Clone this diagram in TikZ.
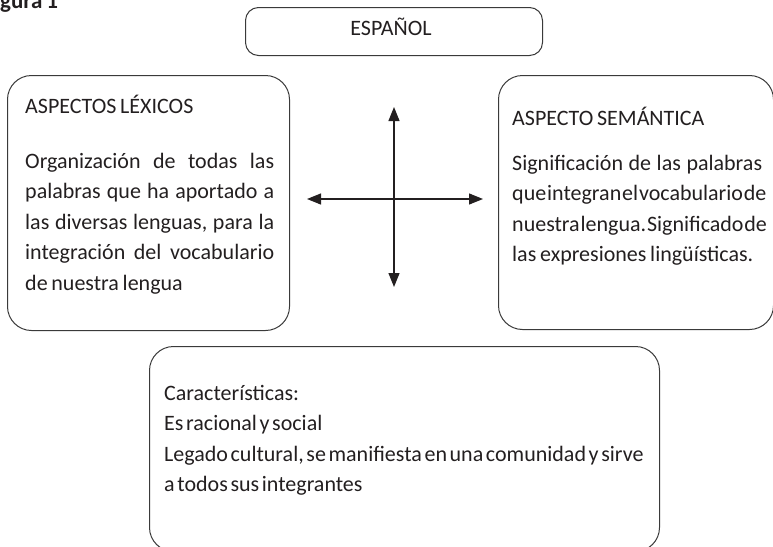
\documentclass[tikz,border=0pt]{standalone}
\usepackage{fontspec}
\setmainfont{Carlito}[WordSpace=0.55]
\usetikzlibrary{arrows.meta,positioning}
\definecolor{ink}{HTML}{231F20}
\definecolor{edge}{HTML}{3A3A3A}
% one justified line of a given width
\newcommand{\justline}[2]{\leavevmode\hbox to #1{\spaceskip=0.17em plus 1fil minus 0.13em\relax#2}}

\begin{document}
\begin{tikzpicture}[x=1pt,y=-1pt,>={Triangle[length=14pt,width=11pt]},
  every node/.style={text=ink,inner sep=0pt},
  txt/.style={font=\fontsize{22}{30.5}\selectfont,anchor=base west,align=left,text width=320pt,
    execute at begin node={\frenchspacing\spaceskip=0.17em\relax}},
  box/.style={draw=edge,line width=1pt,rounded corners=24pt,anchor=north west}]
\useasboundingbox (0,0) rectangle (773,546);
\node[txt,font=\bfseries\fontsize{23}{24}\selectfont] (fig) at (0,9) {gura 1};
% title
\node[box,rounded corners=13pt,minimum width=297pt,minimum height=48pt] (esp) at (245,7) {};
\node[txt,anchor=base,text width=] (esptxt) at (391,35) {ESPAÑOL};
% left and right boxes
\node[box,minimum width=282pt,minimum height=255pt] (lexbox) at (7,75) {};
\node[txt] (lexhead) at (25,113) {ASPECTOS LÉXICOS};
\node[txt] (lexbody) at (25,168)
  {\justline{249pt}{Organización de todas las}\\
   \justline{249pt}{palabras que ha aportado a}\\
   \justline{249pt}{las diversas lenguas, para la}\\
   \justline{249pt}{integración del vocabulario}\\
   de nuestra lengua};
\node[box,minimum width=275pt,minimum height=254pt] (sembox) at (498,75) {};
\node[txt] (semhead) at (512,125) {ASPECTO SEMÁNTICA};
\node[txt] (sembody) at (512,170)
  {\justline{250pt}{Significación de las palabras}\\
   \justline{250pt}{que integran el vocabulario de}\\
   \justline{250pt}{nuestra lengua. Significado de}\\
   las expresiones lingüísticas.};
% bottom box
\node[box,minimum width=510pt,minimum height=205pt] (carbox) at (149,346) {};
\node[txt,text width=490pt,execute at begin node={\spaceskip=0.12em\relax}] (carbody) at (164,400)
  {Características:\\Es racional y social\\Legado cultural, se manifiesta en una comunidad y sirve\\a todos sus integrantes};
% cross
\coordinate (up) at (394,107);
\coordinate (down) at (394,287);
\coordinate (lft) at (307,199);
\coordinate (rgt) at (483,199);
\draw[<->,line width=1.2pt,ink] (lft) -- (rgt);
\draw[<->,line width=1.2pt,ink] (down) -- (up);
\end{tikzpicture}
\end{document}
